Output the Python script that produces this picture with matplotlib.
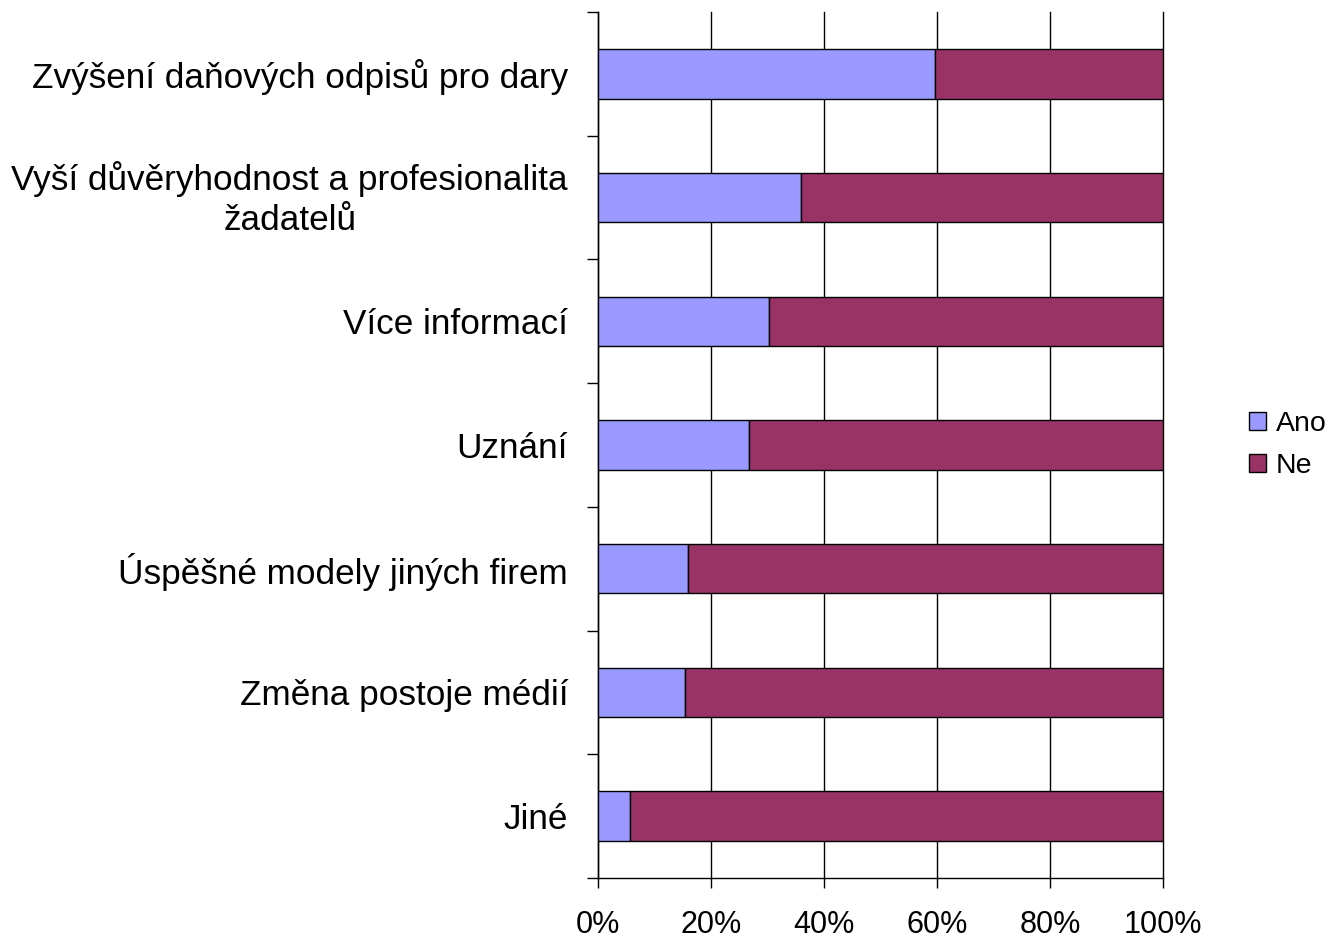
import matplotlib
matplotlib.use("Agg")
import matplotlib.pyplot as plt
from matplotlib.ticker import FuncFormatter
from matplotlib.transforms import offset_copy
import numpy as np

categories = [
    "Zvýšení daňových odpisů pro dary",
    "Vyší důvěryhodnost a profesionalita\nžadatelů",
    "Více informací",
    "Uznání",
    "Úspěšné modely jiných firem",
    "Změna postoje médií",
    "Jiné",
]
ano = [59.6, 35.9, 30.3, 26.7, 15.9, 15.4, 5.7]
ne = [100 - v for v in ano]
xticks = [0, 20, 40, 60, 80, 100]

plt.rcParams["font.family"] = ["Liberation Sans", "DejaVu Sans"]

fig = plt.figure(figsize=(13.29, 9.4), dpi=100)
ax = fig.add_axes([598 / 1329, 62 / 940, 565 / 1329, 866 / 940])

y = np.arange(len(categories))
ax.barh(y, ano, height=0.4, color="#9999FF", edgecolor="black", linewidth=1.0,
        label="Ano", zorder=3)
ax.barh(y, ne, left=ano, height=0.4, color="#993366", edgecolor="black",
        linewidth=1.0, label="Ne", zorder=3)

ax.set_xlim(0, 100)
ax.set_ylim(len(categories) - 0.5, -0.5)
ax.set_xticks(xticks)
ax.xaxis.set_major_formatter(FuncFormatter(lambda v, p: f"{v:.0f}%"))
ax.grid(axis="x", color="black", linewidth=1.0, zorder=0)
for gl in ax.get_xgridlines():
    gl.set_clip_on(False)

# category labels sit between the boundary ticks
ax.set_yticks(y)
ax.set_yticklabels(categories, ha="center", multialignment="center",
                   linespacing=1.3)
ax.set_yticks(np.arange(-0.5, len(categories)), minor=True)
ax.tick_params(axis="y", which="major", length=0, labelsize=25.3, pad=0)
ax.tick_params(axis="y", which="minor", length=8, width=1.0, direction="out")
ax.tick_params(axis="x", length=7, width=1.0, direction="out", labelsize=22, pad=16)

fig.canvas.draw()
renderer = fig.canvas.get_renderer()
for lab in ax.get_yticklabels():
    w = lab.get_window_extent(renderer).width
    dy = 6 if "\n" in lab.get_text() else 0
    # right edge of each label a fixed distance left of the axis
    lab.set_transform(offset_copy(ax.get_yaxis_transform(), fig=fig,
                                  x=-(30 + w / 2), y=dy, units="dots"))

for s in ["top", "right"]:
    ax.spines[s].set_visible(False)
for s in ["left", "bottom"]:
    ax.spines[s].set_linewidth(1.0)

ax.legend(loc="center left", bbox_to_anchor=(1249 / 1329, (940 - 445) / 940),
          bbox_transform=fig.transFigure, frameon=False, fontsize=20.5,
          borderpad=0, borderaxespad=0,
          handlelength=0.6, handleheight=0.6, handletextpad=0.35,
          labelspacing=0.55)

fig.savefig("out.png", dpi=100)
